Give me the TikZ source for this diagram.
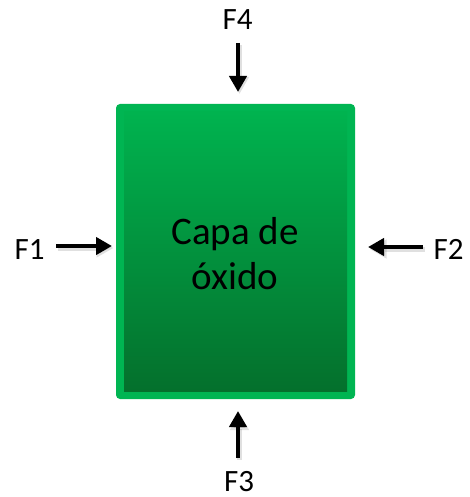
\documentclass[tikz,border=0pt]{standalone}
\usepackage{fontspec}
\setmainfont{Carlito}
\usetikzlibrary{arrows.meta}
\definecolor{rim}{HTML}{00B552}
\definecolor{layertop}{HTML}{00B34F}
\definecolor{layerbot}{HTML}{04702C}
\tikzset{
  force/.style={line width=4.5pt, -{Triangle[length=16pt,width=17pt]}},
  forceshadow/.style={line width=5pt, -{Triangle[length=17pt,width=18pt]}, black, opacity=0.12},
  flabel/.style={font=\fontsize{31}{36}\selectfont, anchor=base, inner sep=0pt, text depth=0pt},
}
\begin{document}
\begin{tikzpicture}[x=1pt,y=-1pt]
\useasboundingbox (0,0) rectangle (470,497);
% oxide layer: light rim with shaded body
\node[fill=rim, rounded corners=4pt, minimum width=239pt, minimum height=295pt, inner sep=0pt] (layer) at (235.5,251.5) {};
\node[top color=layertop, bottom color=layerbot, minimum width=223pt, minimum height=279pt, inner sep=0pt] (body) at (layer.center) {};
\node[font=\fontsize{39}{45}\selectfont, align=center, inner sep=0pt] (name) at (235,254) {Capa de\\óxido};
% force labels
\node[flabel] (f1) at (29.5,259) {F1};
\node[flabel] (f2) at (448.5,259) {F2};
\node[flabel] (f3) at (239,491) {F3};
\node[flabel] (f4) at (237.5,30) {F4};
% arrow end points
\coordinate (a1s) at (56,246);  \coordinate (a1e) at (112,246);
\coordinate (a2s) at (423,247); \coordinate (a2e) at (368,247);
\coordinate (a3s) at (238,458); \coordinate (a3e) at (238,411);
\coordinate (a4s) at (238,43);  \coordinate (a4e) at (238,92);
% soft shadows under the arrows
\foreach \s/\e in {a1s/a1e,a2s/a2e,a3s/a3e,a4s/a4e}
  \draw[forceshadow, transform canvas={shift={(1.5pt,-2pt)}}] (\s) -- (\e);
% forces
\foreach \s/\e in {a1s/a1e,a2s/a2e,a3s/a3e,a4s/a4e}
  \draw[force] (\s) -- (\e);
\end{tikzpicture}
\end{document}
